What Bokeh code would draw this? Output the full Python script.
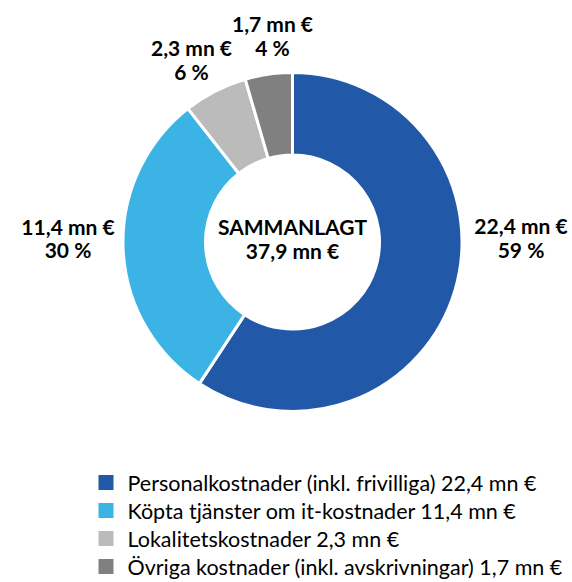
import numpy as np
from bokeh.plotting import figure
from bokeh.models import ColumnDataSource, Range1d
from bokeh.core.properties import value
from bokeh.embed import file_html
from bokeh.resources import INLINE

# ---- data ----
categories = [
    "Personalkostnader (inkl. frivilliga)",
    "Köpta tjänster om it-kostnader",
    "Lokalitetskostnader",
    "Övriga kostnader (inkl. avskrivningar)",
]
amounts = [22.4, 11.4, 2.3, 1.7]
percents = [59, 30, 6, 4]
total_amount = 37.9
total_title = "SAMMANLAGT"
colors = ["#2159A8", "#3BB3E5", "#BBBBBB", "#808080"]

# ---- layout (screen px, page origin top-left) ----
W, H = 570, 580
CX_PX, CY_PX = 292, 241.5
R_OUT, R_IN = 169.5, 87
# label block centres (screen px)
label_pos = [(520.5, 237), (67.5, 237.5), (191, 59), (272, 35)]
LINE_GAP = 11.75
FONT = "Lato"
LEG_SQ_X, LEG_TXT_X, LEG_Y0, LEG_STEP = 105.5, 127, 482, 28


def fmt(v):
    return f"{v:.1f}".replace(".", ",") + " mn €"


def Y(py):
    return H - py


CX, CY = CX_PX, Y(CY_PX)

frac = np.array(amounts) / np.sum(amounts)
cum = np.concatenate([[0.0], np.cumsum(frac)])
start = np.pi / 2 - cum[:-1] * 2 * np.pi
end = np.pi / 2 - cum[1:] * 2 * np.pi

wedges = ColumnDataSource(dict(start=start, end=end, color=colors))

p = figure(width=W, height=H, x_range=Range1d(0, W), y_range=Range1d(0, H),
           output_backend="svg", toolbar_location=None, min_border=0)
p.axis.visible = False
p.grid.visible = False
p.outline_line_color = None
p.background_fill_color = "white"
p.border_fill_color = "white"

p.annular_wedge(x=CX, y=CY, inner_radius=R_IN, outer_radius=R_OUT,
                start_angle="start", end_angle="end", direction="clock",
                fill_color="color", line_color="white", line_width=3,
                source=wedges)

# slice labels
lab = ColumnDataSource(dict(
    x=[px for px, py in label_pos],
    y1=[Y(py) + LINE_GAP for px, py in label_pos],
    y2=[Y(py) - LINE_GAP for px, py in label_pos],
    t1=[fmt(a) for a in amounts],
    t2=[f"{q} %" for q in percents],
))
for ycol, tcol in (("y1", "t1"), ("y2", "t2")):
    p.text(x="x", y=ycol, text=tcol, source=lab, text_align="center",
           text_baseline="middle", text_font=value(FONT),
           text_font_style="bold", text_font_size="21px", text_color="black")

# centre text
p.text(x=[CX, CX], y=[Y(238) + LINE_GAP, Y(238) - LINE_GAP],
       text=[total_title, fmt(total_amount)], text_align="center",
       text_baseline="middle", text_font=value(FONT), text_font_style="bold",
       text_font_size="21px", text_color="black")

# legend
n = len(categories)
leg = ColumnDataSource(dict(
    x=[LEG_SQ_X] * n,
    tx=[LEG_TXT_X] * n,
    y=[Y(LEG_Y0 + i * LEG_STEP) for i in range(n)],
    color=colors,
    label=[f"{c} {fmt(a)}" for c, a in zip(categories, amounts)],
))
p.rect(x="x", y="y", width=15, height=15, width_units="screen",
       height_units="screen", fill_color="color", line_color=None, source=leg)
p.text(x="tx", y="y", text="label", source=leg, text_align="left",
       text_baseline="middle", text_font=value(FONT), text_font_size="21.5px",
       text_color="black")

open("out.html", "w").write(file_html(p, INLINE))
